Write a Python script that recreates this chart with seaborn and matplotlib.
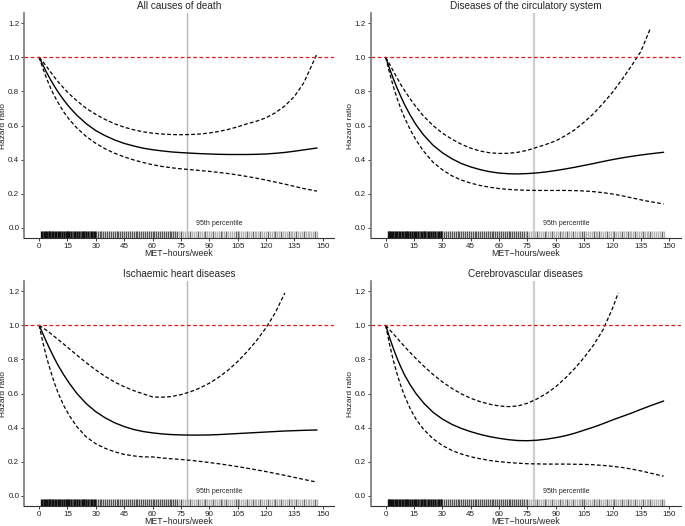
import numpy as np
import pandas as pd
import matplotlib
matplotlib.use("Agg")
import matplotlib.pyplot as plt
import seaborn as sns

# Shared MET-hours/week grid for the spline curves
met_x = [0, 2, 4, 6, 8, 10, 13, 16, 20, 25, 30, 35, 40, 45, 50, 55, 60, 65, 70,
         75, 80, 85, 90, 95, 100, 105, 110, 115, 120, 125, 130, 135, 140, 147]

# All causes of death
allc_hr = [1.0, 0.955, 0.91, 0.87, 0.832, 0.797, 0.75, 0.708, 0.66, 0.61, 0.57, 0.54, 0.515,
           0.495, 0.48, 0.467, 0.458, 0.451, 0.445, 0.441, 0.438, 0.435, 0.433, 0.431, 0.43,
           0.43, 0.43, 0.431, 0.433, 0.437, 0.442, 0.449, 0.457, 0.468]
allc_lo = [1.0, 0.935, 0.875, 0.822, 0.775, 0.735, 0.68, 0.635, 0.585, 0.535, 0.495, 0.463,
           0.437, 0.416, 0.398, 0.383, 0.37, 0.36, 0.352, 0.346, 0.341, 0.336, 0.331, 0.325,
           0.318, 0.31, 0.301, 0.291, 0.28, 0.268, 0.256, 0.243, 0.23, 0.215]
allc_hi_x = met_x
allc_hi = [1.0, 0.975, 0.945, 0.915, 0.885, 0.857, 0.82, 0.785, 0.745, 0.70, 0.665, 0.635,
           0.61, 0.59, 0.575, 0.563, 0.555, 0.55, 0.547, 0.546, 0.547, 0.55, 0.556, 0.565,
           0.577, 0.592, 0.61, 0.625, 0.645, 0.675, 0.715, 0.77, 0.85, 1.02]

# Diseases of the circulatory system
circ_hr = [1.0, 0.935, 0.875, 0.82, 0.77, 0.722, 0.66, 0.605, 0.545, 0.485, 0.44, 0.405,
           0.377, 0.357, 0.341, 0.329, 0.321, 0.317, 0.316, 0.318, 0.322, 0.328, 0.336,
           0.345, 0.355, 0.366, 0.377, 0.389, 0.4, 0.41, 0.419, 0.427, 0.434, 0.443]
circ_lo = [1.0, 0.91, 0.83, 0.76, 0.698, 0.645, 0.575, 0.515, 0.45, 0.385, 0.34, 0.305,
           0.28, 0.262, 0.248, 0.238, 0.23, 0.225, 0.222, 0.22, 0.219, 0.219, 0.219, 0.219,
           0.218, 0.216, 0.212, 0.206, 0.198, 0.188, 0.176, 0.164, 0.153, 0.14]
circ_hi_x = met_x[:-1]
circ_hi = [1.0, 0.96, 0.92, 0.88, 0.84, 0.805, 0.755, 0.71, 0.655, 0.6, 0.555, 0.52, 0.49,
           0.467, 0.45, 0.44, 0.436, 0.437, 0.443, 0.455, 0.472, 0.49, 0.51, 0.54, 0.575,
           0.62, 0.67, 0.73, 0.795, 0.87, 0.95, 1.035, 1.17]

# Ischaemic heart diseases
ihd_hr = [1.0, 0.95, 0.9, 0.853, 0.808, 0.766, 0.71, 0.66, 0.6, 0.54, 0.493, 0.457, 0.428,
          0.406, 0.389, 0.377, 0.369, 0.363, 0.359, 0.357, 0.356, 0.356, 0.357, 0.359, 0.362,
          0.365, 0.368, 0.371, 0.374, 0.377, 0.38, 0.382, 0.384, 0.386]
ihd_lo = [1.0, 0.9, 0.81, 0.735, 0.665, 0.605, 0.53, 0.47, 0.405, 0.345, 0.305, 0.278,
          0.258, 0.243, 0.234, 0.228, 0.228, 0.222, 0.217, 0.213, 0.208, 0.202, 0.195,
          0.188, 0.18, 0.171, 0.162, 0.152, 0.142, 0.131, 0.12, 0.108, 0.096, 0.08]
ihd_hi_x = met_x[:-3]
ihd_hi = [1.0, 0.985, 0.97, 0.953, 0.935, 0.917, 0.89, 0.862, 0.825, 0.78, 0.738, 0.7,
          0.667, 0.64, 0.617, 0.598, 0.58, 0.578, 0.582, 0.593, 0.61, 0.632, 0.66, 0.695,
          0.737, 0.787, 0.845, 0.91, 0.985, 1.075, 1.19]

# Cerebrovascular diseases
cvd_hr = [1.0, 0.93, 0.865, 0.807, 0.755, 0.708, 0.65, 0.6, 0.545, 0.49, 0.45, 0.419, 0.395,
          0.376, 0.36, 0.347, 0.337, 0.329, 0.324, 0.323, 0.326, 0.332, 0.341, 0.352, 0.367,
          0.385, 0.403, 0.423, 0.445, 0.465, 0.485, 0.507, 0.528, 0.556]
cvd_lo = [1.0, 0.89, 0.795, 0.715, 0.645, 0.585, 0.51, 0.45, 0.39, 0.335, 0.295, 0.266,
          0.245, 0.229, 0.217, 0.207, 0.2, 0.195, 0.191, 0.188, 0.187, 0.186, 0.186, 0.186,
          0.185, 0.184, 0.182, 0.178, 0.173, 0.166, 0.157, 0.146, 0.133, 0.115]
cvd_hi_x = [0, 2, 4, 6, 8, 10, 13, 16, 20, 25, 30, 35, 40, 45, 50, 55, 60, 65, 70, 75, 80,
            85, 90, 95, 100, 105, 110, 115, 120, 123]
cvd_hi = [1.0, 0.975, 0.95, 0.925, 0.9, 0.875, 0.84, 0.805, 0.762, 0.712, 0.668, 0.63,
          0.598, 0.572, 0.552, 0.537, 0.527, 0.523, 0.527, 0.543, 0.568, 0.6, 0.64, 0.69,
          0.747, 0.812, 0.885, 0.975, 1.1, 1.19]

titles = ["All causes of death", "Diseases of the circulatory system",
          "Ischaemic heart diseases", "Cerebrovascular diseases"]

# rug of observed exposure values (shade groups)
rug_dense = [1, 1.5, 2.5, 3, 3.5, 4, 5, 5.5, 6, 7, 7.5, 8.5, 9, 10, 10.5, 11,
             12, 13, 14, 15, 15.5, 16, 17, 18.5, 19, 20, 21, 22.5, 23, 24,
             25, 26, 27.5, 28, 29, 29.5]
rug_mid = [2, 4.5, 6.5, 8, 9.5, 11.5, 12.5, 13.5, 14.5, 16.5, 17.5, 18, 19.5, 20.5, 21.5,
           22, 23.5, 24.5, 25.5, 26.5, 27, 28.5, 30, 31, 32, 33, 34, 35, 36, 37, 38, 39, 40,
           41, 42, 43, 44, 45, 46, 47, 48, 49, 50, 51, 52, 53, 54, 55, 56, 57, 58, 59, 60,
           61, 62, 63, 64, 65, 66, 67, 68, 69, 70, 71, 72, 73, 75]
rug_light = [74, 76, 77, 78, 79, 81, 82, 83, 85, 86, 87, 89, 90, 91, 93, 94, 95, 97, 98,
             100, 101, 102, 103, 106, 107, 108, 109, 111, 112, 114, 115, 116, 118, 119,
             120, 122, 123, 124, 126, 127, 129, 130, 131, 133, 134, 135, 137, 138, 139,
             141, 142, 143, 144, 145, 147]
rug_spot = [80, 84, 88, 92, 96, 99, 104, 105, 110, 113, 117, 121, 125, 128, 132, 136,
            140, 146]

pct95 = 78.5

sns.set_theme(style="ticks")
plt.rcParams['font.family'] = ['Liberation Sans', 'DejaVu Sans']

fig = plt.figure(figsize=(6.85, 5.26), dpi=100)
positions = [[0.035, 0.5475, 0.4526, 0.4278], [0.541, 0.5475, 0.4526, 0.4278],
             [0.035, 0.038, 0.4526, 0.4278], [0.541, 0.038, 0.4526, 0.4278]]

panels = [(allc_hr, allc_lo, allc_hi_x, allc_hi), (circ_hr, circ_lo, circ_hi_x, circ_hi),
          (ihd_hr, ihd_lo, ihd_hi_x, ihd_hi), (cvd_hr, cvd_lo, cvd_hi_x, cvd_hi)]

for i, (hr, lo, hix, hi) in enumerate(panels):
    ax = fig.add_axes(positions[i])
    vcol = '#b8b8b8' if i % 2 == 0 else '#d0d0d0'
    ax.axvline(pct95, color=vcol, lw=1.0 if i % 2 == 0 else 1.6, zorder=1)
    ax.axhline(1.0, color='#d42020', lw=0.9, ls=(0, (3, 2)), zorder=4)

    sns.lineplot(x=met_x, y=hr, ax=ax, color='black', lw=1.0, zorder=3)
    sns.lineplot(x=met_x, y=lo, ax=ax, color='black', lw=0.9, ls=(0, (3, 1.8)), zorder=3)
    sns.lineplot(x=hix, y=hi, ax=ax, color='black', lw=0.9, ls=(0, (3, 1.8)), zorder=3)

    sns.rugplot(x=rug_light, ax=ax, height=0.031, color='#b4b4b4', lw=0.8)
    sns.rugplot(x=rug_spot, ax=ax, height=0.031, color='#6a6a6a', lw=0.8)
    sns.rugplot(x=rug_mid, ax=ax, height=0.031, color='#555555', lw=0.8)
    sns.rugplot(x=rug_dense, ax=ax, height=0.031, color='#111111', lw=0.8)

    ax.text(83, 0.028, "95th percentile", fontsize=5, va='center', ha='left')

    ax.set_xlim(-8, 156)
    ax.set_ylim(-0.06, 1.26)
    ax.set_xticks(range(0, 151, 15))
    ax.set_yticks([0, 0.2, 0.4, 0.6, 0.8, 1.0, 1.2])
    ax.set_yticklabels(["0.0", "0.2", "0.4", "0.6", "0.8", "1.0", "1.2"])
    ax.tick_params(labelsize=5.8, length=2.2, width=0.6, pad=1.2, colors='#222222')
    ax.set_xlabel("MET\u2212hours/week", fontsize=6.3, va='center')
    ax.set_ylabel("Hazard ratio", fontsize=6, va='center')
    ax.xaxis.set_label_coords(0.5, -0.068)
    ax.yaxis.set_label_coords(-0.066, 0.5)
    ax.set_title(titles[i], fontsize=7.2, pad=3)
    sns.despine(ax=ax)
    ax.spines['left'].set_color('#777777')
    ax.spines['left'].set_linewidth(1.2)
    ax.spines['bottom'].set_color('#333333')
    ax.spines['bottom'].set_linewidth(0.8)

fig.savefig("out.png", dpi=100)
